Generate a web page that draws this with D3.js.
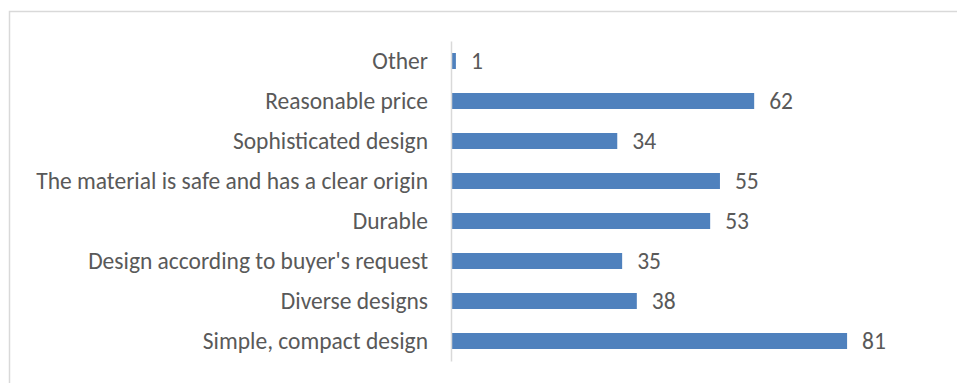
<!DOCTYPE html>
<html>
<head>
<meta charset="utf-8">
<script src="https://cdn.jsdelivr.net/npm/d3@7"></script>
<style>
  html, body { margin: 0; padding: 0; background: #fff; }
  svg { display: block; }
  text { font-family: Carlito, Calibri, Lato, "Open Sans", sans-serif; fill: #595959; }
</style>
</head>
<body>
<svg id="chart" width="957" height="383"></svg>
<script>
// Purchase criteria, listed top to bottom
const categories = [
  "Other",
  "Reasonable price",
  "Sophisticated design",
  "The material is safe and has a clear origin",
  "Durable",
  "Design according to buyer's request",
  "Diverse designs",
  "Simple, compact design"
];
const values = [1, 62, 34, 55, 53, 35, 38, 81];
const axisMax = 90;

const data = categories.map((c, i) => ({ category: c, value: values[i] }));

const svg = d3.select("#chart");
const fontSize = 23.5;

// Chart area frame
svg.append("rect")
  .attr("x", 9.5).attr("y", 11.5)
  .attr("width", 980).attr("height", 400)
  .attr("fill", "#fff")
  .attr("stroke", "#d9d9d9")
  .attr("stroke-width", 1.5);

const x = d3.scaleLinear().domain([0, axisMax]).range([451, 451 + axisMax * 4.89]);
const y = d3.scaleBand().domain(categories).range([41, 361])
  .paddingInner(0.6).paddingOuter(0.3);

// Bars
svg.append("g").selectAll("rect")
  .data(data)
  .join("rect")
  .attr("x", x(0))
  .attr("y", d => y(d.category))
  .attr("width", d => x(d.value) - x(0))
  .attr("height", y.bandwidth())
  .attr("fill", "#4f81bd");

// Category axis
const yAxis = svg.append("g")
  .attr("transform", `translate(${x(0)},0)`)
  .call(d3.axisLeft(y).tickSize(0).tickPadding(23));
yAxis.select(".domain").attr("stroke", "#d9d9d9").attr("stroke-width", 1.5);
yAxis.selectAll("text")
  .attr("font-size", fontSize)
  .attr("fill", "#595959")
  .attr("dy", "0.36em")
  .style("font-family", "Carlito, Calibri, Lato, 'Open Sans', sans-serif");

// Value labels
svg.append("g").selectAll("text")
  .data(data)
  .join("text")
  .attr("x", d => x(d.value) + 15)
  .attr("y", d => y(d.category) + y.bandwidth() / 2)
  .attr("dy", "0.36em")
  .attr("font-size", fontSize)
  .text(d => d.value);
</script>
</body>
</html>
